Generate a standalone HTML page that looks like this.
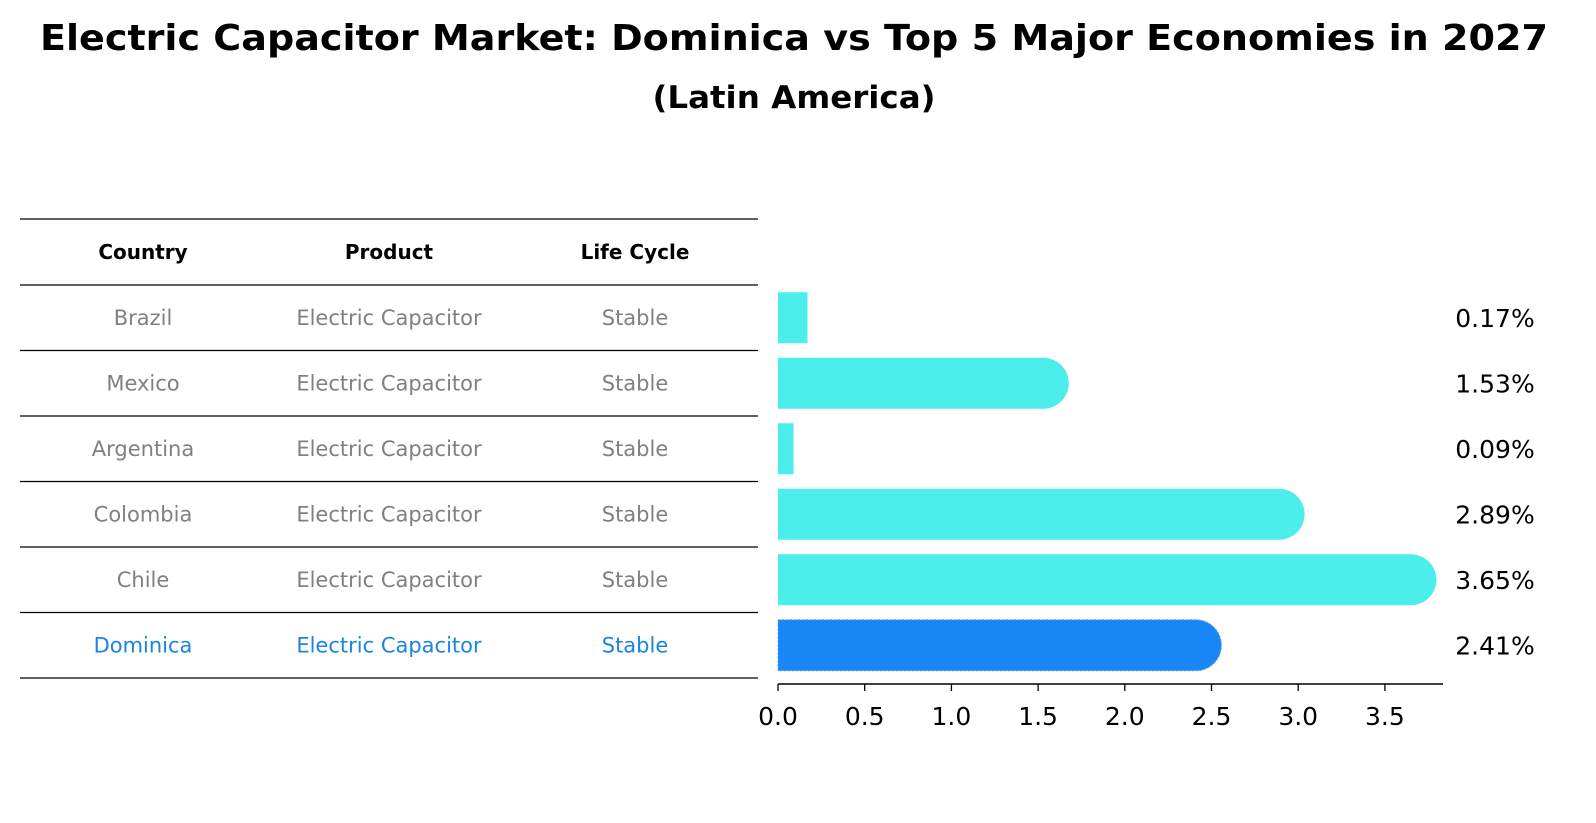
<!DOCTYPE html>
<html><head><meta charset="utf-8"><style>
body{margin:0;background:#fff;}
svg{display:block;font-family:"DejaVu Sans","Liberation Sans",sans-serif;}
</style></head><body>
<svg id="chart" width="1596" height="823" viewBox="0 0 1596 823">
<text x="794" y="50" text-anchor="middle" font-size="36" font-weight="bold" textLength="1508" lengthAdjust="spacingAndGlyphs">Electric Capacitor Market: Dominica vs Top 5 Major Economies in 2027</text>
<text x="794" y="108" text-anchor="middle" font-size="31" font-weight="bold" textLength="283" lengthAdjust="spacingAndGlyphs">(Latin America)</text>
<g id="table"></g>
<g id="bars"></g>
</svg>
<script>
const countries = ["Brazil","Mexico","Argentina","Colombia","Chile","Dominica"];
const products = ["Electric Capacitor","Electric Capacitor","Electric Capacitor","Electric Capacitor","Electric Capacitor","Electric Capacitor"];
const lifeCycles = ["Stable","Stable","Stable","Stable","Stable","Stable"];
const values = [0.17,1.53,0.09,2.89,3.65,2.41];
const tickValues = [0,0.5,1,1.5,2,2.5,3,3.5];
const highlight = "Dominica";

const NS="http://www.w3.org/2000/svg";
function mk(tag, attrs, parent){const e=document.createElementNS(NS,tag);for(const k in attrs)e.setAttribute(k,attrs[k]);parent.appendChild(e);return e;}
const table=document.getElementById('table'), bars=document.getElementById('bars');
const x0=778, pxPerUnit=173.4;
const xs=v=>x0+v*pxPerUnit;
const rowTop=285, rowH=65.5;
const yc=i=>rowTop+rowH*(i+0.5);
const colX=[143,389,635];

for(let i=0;i<=countries.length+1;i++){
  const y=219+ (i===0?0:66+(i-1)*rowH);
  const l=mk('line',{x1:20,x2:758,y1:y,y2:y,stroke:'#000','stroke-width':1.2},table);
  
  
}
const headers=["Country","Product","Life Cycle"];
headers.forEach((h,j)=>{
  const t=mk('text',{x:colX[j],y:259,'text-anchor':'middle','font-size':20,'font-weight':'bold'},table);
  t.textContent=h;
  
  
});
countries.forEach((c,i)=>{
  const col=c===highlight?'#1a85e0':'#808080';
  [c,products[i],lifeCycles[i]].forEach((v,j)=>{
    const t=mk('text',{x:colX[j],y:yc(i)+7,'text-anchor':'middle','font-size':21,fill:col},table);
    t.textContent=v;
    
    
  });
});

const bh=51;
values.forEach((v,i)=>{
  const hl=countries[i]===highlight;
  const col=hl?'#1a85f5':'#4beeea';
  const y=yc(i)-bh/2;
  const x1=xs(v);
  let d;
  if(v>0.3){
    const r=bh/2;
    d=`M${x0},${y} H${x1} A${r},${r} 0 0 1 ${x1},${y+bh} H${x0} Z`;
  } else {
    d=`M${x0},${y} H${x1} V${y+bh} H${x0} Z`;
  }
  const attrs={d:d,fill:col};
  if(hl){attrs.stroke='#4aa0f0';attrs['stroke-width']=1;attrs['stroke-dasharray']='2,2';}
  const p=mk('path',attrs,bars);
  
  
  const t=mk('text',{x:1495,y:yc(i)+9,'text-anchor':'middle','font-size':25},bars);
  t.textContent=v.toFixed(2)+'%';
  
  
});
const ax=mk('line',{x1:x0,x2:1443,y1:684,y2:684,stroke:'#000','stroke-width':1.5},bars);


tickValues.forEach(tv=>{
  const l=mk('line',{x1:xs(tv),x2:xs(tv),y1:684,y2:691,stroke:'#000','stroke-width':1.3},bars);
  
  
  const t=mk('text',{x:xs(tv),y:725,'text-anchor':'middle','font-size':25},bars);
  t.textContent=tv.toFixed(1);
  
  
});
</script>
</body></html>
